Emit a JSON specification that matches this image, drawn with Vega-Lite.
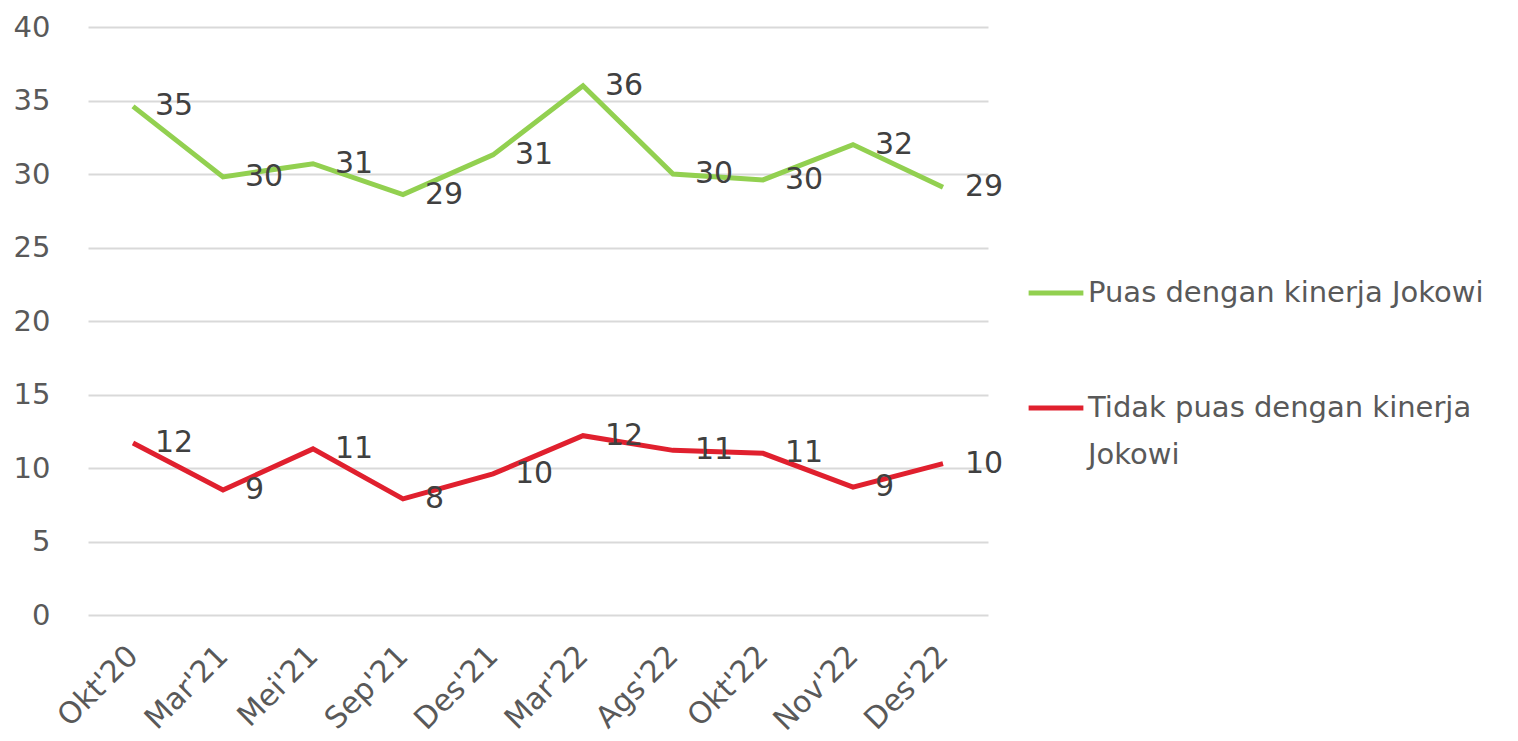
{
  "$schema": "https://vega.github.io/schema/vega-lite/v6.json",
  "width": 900,
  "height": 588,
  "autosize": "none",
  "padding": {"left": 88, "top": 27, "right": 530, "bottom": 126},
  "background": "white",
  "config": {
    "font": "DejaVu Sans",
    "view": {"stroke": null},
    "style": {"guide-label": {"lineHeight": 47}}
  },
  "data": {
    "values": [
      {"bulan": "Okt'20", "seri": "Puas dengan kinerja Jokowi", "nilai": 34.6, "label": "35"},
      {"bulan": "Mar'21", "seri": "Puas dengan kinerja Jokowi", "nilai": 29.8, "label": "30"},
      {"bulan": "Mei'21", "seri": "Puas dengan kinerja Jokowi", "nilai": 30.7, "label": "31"},
      {"bulan": "Sep'21", "seri": "Puas dengan kinerja Jokowi", "nilai": 28.6, "label": "29"},
      {"bulan": "Des'21", "seri": "Puas dengan kinerja Jokowi", "nilai": 31.3, "label": "31"},
      {"bulan": "Mar'22", "seri": "Puas dengan kinerja Jokowi", "nilai": 36.0, "label": "36"},
      {"bulan": "Ags'22", "seri": "Puas dengan kinerja Jokowi", "nilai": 30.0, "label": "30"},
      {"bulan": "Okt'22", "seri": "Puas dengan kinerja Jokowi", "nilai": 29.6, "label": "30"},
      {"bulan": "Nov'22", "seri": "Puas dengan kinerja Jokowi", "nilai": 32.0, "label": "32"},
      {"bulan": "Des'22", "seri": "Puas dengan kinerja Jokowi", "nilai": 29.1, "label": "29"},
      {"bulan": "Okt'20", "seri": "Tidak puas dengan kinerja Jokowi", "nilai": 11.7, "label": "12"},
      {"bulan": "Mar'21", "seri": "Tidak puas dengan kinerja Jokowi", "nilai": 8.5, "label": "9"},
      {"bulan": "Mei'21", "seri": "Tidak puas dengan kinerja Jokowi", "nilai": 11.3, "label": "11"},
      {"bulan": "Sep'21", "seri": "Tidak puas dengan kinerja Jokowi", "nilai": 7.9, "label": "8"},
      {"bulan": "Des'21", "seri": "Tidak puas dengan kinerja Jokowi", "nilai": 9.6, "label": "10"},
      {"bulan": "Mar'22", "seri": "Tidak puas dengan kinerja Jokowi", "nilai": 12.2, "label": "12"},
      {"bulan": "Ags'22", "seri": "Tidak puas dengan kinerja Jokowi", "nilai": 11.2, "label": "11"},
      {"bulan": "Okt'22", "seri": "Tidak puas dengan kinerja Jokowi", "nilai": 11.0, "label": "11"},
      {"bulan": "Nov'22", "seri": "Tidak puas dengan kinerja Jokowi", "nilai": 8.7, "label": "9"},
      {"bulan": "Des'22", "seri": "Tidak puas dengan kinerja Jokowi", "nilai": 10.3, "label": "10"}
    ]
  },
  "encoding": {
    "x": {
      "field": "bulan",
      "type": "ordinal",
      "sort": null,
      "scale": {"type": "point", "padding": 0.5},
      "axis": {
        "title": null,
        "labelAngle": -45,
        "labelAlign": "right",
        "labelBaseline": "middle",
        "labelFontSize": 30,
        "labelColor": "#595959",
        "labelPadding": 36,
        "ticks": false,
        "domain": false,
        "grid": false
      }
    },
    "y": {
      "field": "nilai",
      "type": "quantitative",
      "scale": {"domain": [0, 40], "nice": false},
      "axis": {
        "title": null,
        "values": [0, 5, 10, 15, 20, 25, 30, 35, 40],
        "labelFontSize": 29,
        "labelColor": "#595959",
        "labelPadding": 38,
        "ticks": false,
        "domain": false,
        "gridColor": "#d9d9d9",
        "gridWidth": 2
      }
    },
    "color": {
      "field": "seri",
      "type": "nominal",
      "scale": {
        "domain": ["Puas dengan kinerja Jokowi", "Tidak puas dengan kinerja Jokowi"],
        "range": ["#92D050", "#E0202E"]
      },
      "legend": {
        "title": null,
        "orient": "none",
        "legendX": 938,
        "legendY": 236,
        "symbolType": "stroke",
        "symbolSize": 3000,
        "symbolStrokeWidth": 5,
        "labelFontSize": 29,
        "labelColor": "#595959",
        "labelOffset": 2,
        "labelLimit": 600,
        "rowPadding": 70,
        "labelExpr": "datum.label == 'Tidak puas dengan kinerja Jokowi' ? ['Tidak puas dengan kinerja', 'Jokowi'] : datum.label"
      }
    }
  },
  "layer": [
    {"mark": {"type": "line", "strokeWidth": 5}},
    {
      "mark": {"type": "text", "align": "left", "baseline": "middle", "dx": 22, "fontSize": 30, "color": "#404040"},
      "encoding": {"text": {"field": "label"}, "color": {"value": "#404040"}}
    }
  ]
}
